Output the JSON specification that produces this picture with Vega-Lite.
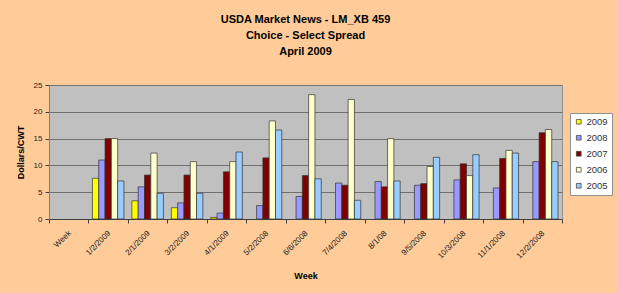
{
  "$schema": "https://vega.github.io/schema/vega-lite/v6.json",
  "width": 513,
  "height": 134,
  "autosize": {"type": "none"},
  "padding": {"left": 49, "top": 85, "right": 56, "bottom": 74},
  "background": "#FFCC99",
  "title": {
    "text": ["USDA Market News - LM_XB 459", "Choice - Select Spread", "April 2009"],
    "font": "Liberation Sans",
    "fontSize": 11,
    "fontWeight": "bold",
    "color": "#000000",
    "lineHeight": 16,
    "anchor": "middle",
    "offset": 24
  },
  "data": {
    "values": [
      {"week": "1/2/2009", "year": "2009", "value": 7.6},
      {"week": "1/2/2009", "year": "2008", "value": 11.0},
      {"week": "1/2/2009", "year": "2007", "value": 15.0},
      {"week": "1/2/2009", "year": "2006", "value": 15.0},
      {"week": "1/2/2009", "year": "2005", "value": 7.1},
      {"week": "2/1/2009", "year": "2009", "value": 3.4},
      {"week": "2/1/2009", "year": "2008", "value": 6.0},
      {"week": "2/1/2009", "year": "2007", "value": 8.2},
      {"week": "2/1/2009", "year": "2006", "value": 12.3},
      {"week": "2/1/2009", "year": "2005", "value": 4.8},
      {"week": "3/2/2009", "year": "2009", "value": 2.1},
      {"week": "3/2/2009", "year": "2008", "value": 3.0},
      {"week": "3/2/2009", "year": "2007", "value": 8.2},
      {"week": "3/2/2009", "year": "2006", "value": 10.7},
      {"week": "3/2/2009", "year": "2005", "value": 4.8},
      {"week": "4/1/2009", "year": "2009", "value": 0.3},
      {"week": "4/1/2009", "year": "2008", "value": 1.1},
      {"week": "4/1/2009", "year": "2007", "value": 8.8},
      {"week": "4/1/2009", "year": "2006", "value": 10.7},
      {"week": "4/1/2009", "year": "2005", "value": 12.5},
      {"week": "5/2/2008", "year": "2008", "value": 2.5},
      {"week": "5/2/2008", "year": "2007", "value": 11.4},
      {"week": "5/2/2008", "year": "2006", "value": 18.3},
      {"week": "5/2/2008", "year": "2005", "value": 16.6},
      {"week": "6/6/2008", "year": "2008", "value": 4.2},
      {"week": "6/6/2008", "year": "2007", "value": 8.1},
      {"week": "6/6/2008", "year": "2006", "value": 23.2},
      {"week": "6/6/2008", "year": "2005", "value": 7.5},
      {"week": "7/4/2008", "year": "2008", "value": 6.7},
      {"week": "7/4/2008", "year": "2007", "value": 6.3},
      {"week": "7/4/2008", "year": "2006", "value": 22.3},
      {"week": "7/4/2008", "year": "2005", "value": 3.5},
      {"week": "8/1/08", "year": "2008", "value": 7.0},
      {"week": "8/1/08", "year": "2007", "value": 6.0},
      {"week": "8/1/08", "year": "2006", "value": 15.0},
      {"week": "8/1/08", "year": "2005", "value": 7.1},
      {"week": "9/5/2008", "year": "2008", "value": 6.3},
      {"week": "9/5/2008", "year": "2007", "value": 6.6},
      {"week": "9/5/2008", "year": "2006", "value": 9.8},
      {"week": "9/5/2008", "year": "2005", "value": 11.5},
      {"week": "10/3/2008", "year": "2008", "value": 7.3},
      {"week": "10/3/2008", "year": "2007", "value": 10.3},
      {"week": "10/3/2008", "year": "2006", "value": 8.1},
      {"week": "10/3/2008", "year": "2005", "value": 12.0},
      {"week": "11/1/2008", "year": "2008", "value": 5.8},
      {"week": "11/1/2008", "year": "2007", "value": 11.3},
      {"week": "11/1/2008", "year": "2006", "value": 12.8},
      {"week": "11/1/2008", "year": "2005", "value": 12.3},
      {"week": "12/2/2008", "year": "2008", "value": 10.7},
      {"week": "12/2/2008", "year": "2007", "value": 16.1},
      {"week": "12/2/2008", "year": "2006", "value": 16.7},
      {"week": "12/2/2008", "year": "2005", "value": 10.7}
    ]
  },
  "mark": {"type": "bar", "stroke": "#333333", "strokeWidth": 0.7},
  "encoding": {
    "x": {
      "field": "week",
      "type": "nominal",
      "scale": {
        "domain": ["Week", "1/2/2009", "2/1/2009", "3/2/2009", "4/1/2009", "5/2/2008", "6/6/2008", "7/4/2008", "8/1/08", "9/5/2008", "10/3/2008", "11/1/2008", "12/2/2008"],
        "paddingInner": 0,
        "paddingOuter": 0
      },
      "axis": {
        "title": "Week",
        "labelAngle": -45,
        "labelAlign": "right",
        "labelBaseline": "top",
        "labelOffset": -2,
        "tickBand": "extent",
        "tickSize": 4,
        "tickColor": "#404040",
        "domainColor": "#404040",
        "labelPadding": 6,
        "titlePadding": 12
      }
    },
    "xOffset": {
      "field": "year",
      "type": "nominal",
      "scale": {"domain": ["2009", "2008", "2007", "2006", "2005"], "paddingInner": 0, "paddingOuter": 0.63}
    },
    "y": {
      "field": "value",
      "type": "quantitative",
      "scale": {"domain": [0, 25], "nice": false},
      "axis": {
        "title": "Dollars/CWT",
        "values": [0, 5, 10, 15, 20, 25],
        "grid": true,
        "gridColor": "#707070",
        "gridWidth": 1,
        "tickSize": 4,
        "tickColor": "#404040",
        "domainColor": "#808080",
        "labelPadding": 3,
        "titlePadding": 8
      }
    },
    "color": {
      "field": "year",
      "type": "nominal",
      "scale": {
        "domain": ["2009", "2008", "2007", "2006", "2005"],
        "range": ["#FFFF00", "#9999FF", "#800000", "#FFFFCC", "#99CCFF"]
      },
      "legend": {
        "title": null,
        "orient": "none",
        "legendX": 521,
        "legendY": 28,
        "symbolType": "square",
        "symbolSize": 22,
        "symbolStrokeColor": "#333333",
        "symbolStrokeWidth": 0.7,
        "labelFontSize": 9.5,
        "labelColor": "#333333",
        "labelOffset": 3,
        "rowPadding": 5,
        "fillColor": "#FFFFFF",
        "strokeColor": "#909090",
        "padding": 4
      }
    }
  },
  "config": {
    "font": "Liberation Sans",
    "view": {"fill": "#C0C0C0", "stroke": "#909090"},
    "axis": {
      "labelFont": "Liberation Sans",
      "labelFontSize": 8,
      "labelColor": "#222222",
      "titleFont": "Liberation Sans",
      "titleFontSize": 9,
      "titleFontWeight": "bold",
      "titleColor": "#000000"
    },
    "legend": {"labelFont": "Liberation Sans"}
  }
}
